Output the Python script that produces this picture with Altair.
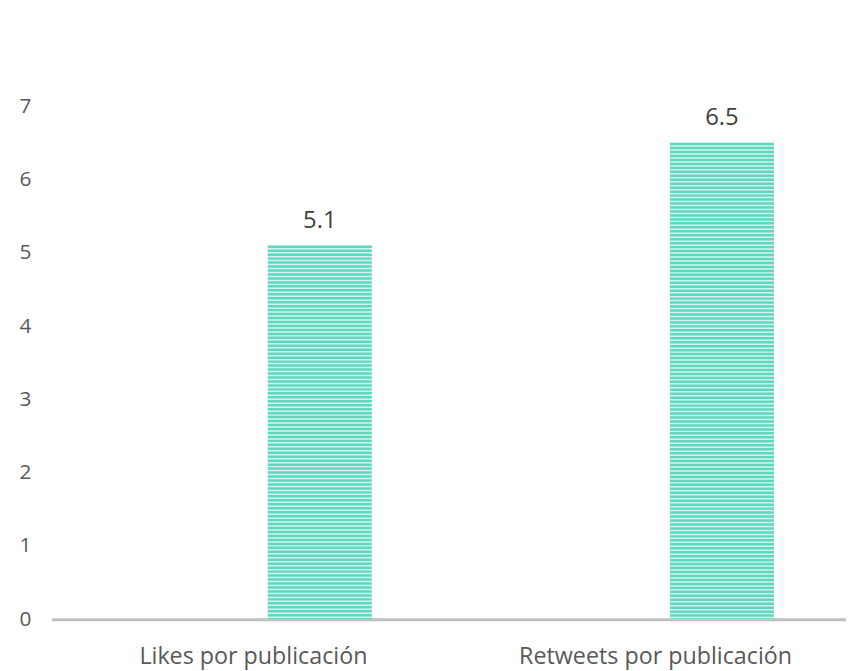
import altair as alt
import pandas as pd

categories = ["Likes por publicación", "Retweets por publicación"]
values = [5.1, 6.5]
labels = ["5.1", "6.5"]

df = pd.DataFrame({"cat": categories, "val": values, "lab": labels})

W, H = 802, 518
YMAX = 7
TEAL = "#5fd8c0"
LIGHT = "#d2f4ec"
FONT = "Open Sans"
GREY = "#595959"
BW = 105

xscale = alt.Scale(domain=categories, paddingInner=0.7414, paddingOuter=0.3584, align=0.75)
yscale = alt.Scale(domain=[0, YMAX], nice=False)

x = alt.X("cat:N", scale=xscale, sort=categories,
          axis=alt.Axis(title=None, labelAngle=0, labelFont=FONT, labelFontSize=23.5,
                        labelColor=GREY, labelPadding=26, labelLimit=0, labelOffset=-67,
                        ticks=False, domainColor="#bfbfbf", domainWidth=3))
y = alt.Y("val:Q", scale=yscale,
          axis=alt.Axis(title=None, values=list(range(0, 8)), labelFont=FONT,
                        labelFontSize=21, labelColor=GREY, labelPadding=33,
                        ticks=False, domain=False, grid=False, labelAlign="left",
                        labelBaseline="middle"))

base = alt.Chart(df)

bars = base.mark_bar(color=LIGHT).encode(x=x, y=y)

stripes = base.mark_rule(color=TEAL, strokeWidth=BW, strokeDash=[2.5, 1.5],
                         strokeCap="butt").encode(x=x, y=y, y2=alt.datum(0))

text = base.mark_text(dy=-18, baseline="alphabetic", font=FONT, fontSize=24,
                      color="#404040").encode(x=x, y=y, text="lab:N")

chart = alt.layer(bars, stripes, text).properties(
    width=W, height=H,
    autosize=alt.AutoSizeParams(type="none"),
    padding={"left": 44, "top": 96, "right": 0, "bottom": 48},
).configure(background="white").configure_view(stroke=None)

chart.save("out.html", embed_options={"renderer": "svg", "actions": False})
